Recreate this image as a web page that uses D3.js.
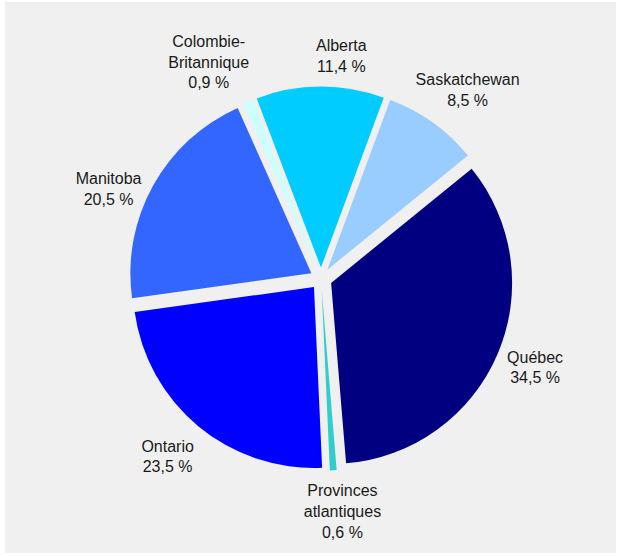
<!DOCTYPE html>
<html>
<head>
<meta charset="utf-8">
<script src="https://cdn.jsdelivr.net/npm/d3@7"></script>
<style>
  html, body { margin: 0; padding: 0; background: #ffffff; }
  svg { display: block; }
  text { font-family: "Liberation Sans", Arial, sans-serif; font-size: 16px; fill: #1a1a1a; }
</style>
</head>
<body>
<svg id="chart" width="621" height="556"></svg>
<script>
// ---- Data ----
const categories = ["Saskatchewan", "Québec", "Provinces atlantiques", "Ontario", "Manitoba", "Colombie-Britannique", "Alberta"];
const values = [8.5, 34.5, 0.6, 23.5, 20.5, 0.9, 11.4];
const colors = ["#99ccff", "#000080", "#33cccc", "#0000ff", "#3366ff", "#ccffff", "#00ccff"];

// ---- Layout ----
const W = 621, H = 556;
const cx = 321, cy = 278.6;
const radius = 181;
const explode = 11;
const startDeg = 20.3;
const labelRadius = 232;
const lineHeight = 20.7;
// per-label nudges (px) relative to the label arc position
const labelNudge = {
  "Saskatchewan": [11.5, 0],
  "Québec": [0.7, -2.2],
  "Provinces atlantiques": [6.6, 1.3],
  "Ontario": [-5, -0.5],
  "Manitoba": [-9.6, 22.5],
  "Colombie-Britannique": [-23.9, -2.1],
  "Alberta": [21.3, 9.4]
};

const svg = d3.select("#chart");
svg.append("rect").attr("x", 5).attr("y", 2).attr("width", 611).attr("height", 551).attr("fill", "#f0f0f0");

const data = categories.map((c, i) => ({ name: c, value: values[i], color: colors[i] }));
const start = startDeg * Math.PI / 180;
const pie = d3.pie().value(d => d.value).sort(null).startAngle(start).endAngle(start + 2 * Math.PI);
const arcs = pie(data);
const arc = d3.arc().innerRadius(0).outerRadius(radius);

const g = svg.append("g").attr("transform", `translate(${cx},${cy})`);

g.selectAll("path.slice").data(arcs).join("path")
  .attr("class", "slice")
  .attr("d", arc)
  .attr("fill", d => d.data.color)
  .attr("transform", d => {
    const a = (d.startAngle + d.endAngle) / 2;
    return `translate(${explode * Math.sin(a)},${-explode * Math.cos(a)})`;
  });

function labelLines(d) {
  let name = d.data.name;
  let lines;
  if (name.includes("-")) {
    const k = name.indexOf("-");
    lines = [name.slice(0, k + 1), name.slice(k + 1)];
  } else if (name.includes(" ")) {
    lines = name.split(" ");
  } else {
    lines = [name];
  }
  lines.push(d3.format(".1f")(d.data.value).replace(".", ",") + " %");
  return lines;
}

const labels = g.selectAll("text.lbl").data(arcs).join("text")
  .attr("class", "lbl")
  .attr("text-anchor", "middle")
  .each(function(d) {
    const a = (d.startAngle + d.endAngle) / 2;
    const nudge = labelNudge[d.data.name] || [0, 0];
    const x = labelRadius * Math.sin(a) + nudge[0];
    const y = -labelRadius * Math.cos(a) + nudge[1];
    const lines = labelLines(d);
    const first = y - (lines.length - 1) * lineHeight / 2 + 5.7;
    d3.select(this).selectAll("tspan").data(lines).join("tspan")
      .attr("x", x)
      .attr("y", (t, i) => first + i * lineHeight)
      .text(t => t);
  });
</script>
</body>
</html>
